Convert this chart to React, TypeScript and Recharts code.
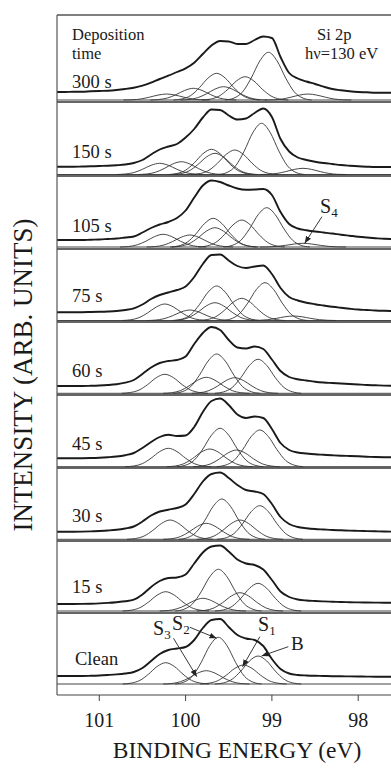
import React from 'react';
import { LineChart, Line, XAxis, YAxis, ReferenceLine } from 'recharts';

// binding energy grid (eV) for the measured spectra
const ENERGY = [
  101.5, 101.4, 101.3, 101.2, 101.1, 101.0, 100.9, 100.8, 100.7, 100.6,
  100.5, 100.4, 100.3, 100.2, 100.1, 100.0, 99.9, 99.8, 99.7, 99.6,
  99.5, 99.4, 99.3, 99.2, 99.1, 99.0, 98.9, 98.8, 98.7, 98.6,
  98.5, 98.4, 98.3, 98.2, 98.1, 98.0, 97.9, 97.8, 97.7, 97.6,
];

const X_TICKS = [101, 100, 99, 98];
const LABELS = ['300 s', '150 s', '105 s', '75 s', '60 s', '45 s', '30 s', '15 s', 'Clean'];

// measured spectra (arb. units, offset per panel)
const TOTAL_300 = [10, 10, 10.3, 10.3, 10.7, 11, 11.3, 12, 13, 14.3, 16.3, 19.3, 23, 26.3, 30, 33.7, 39.3, 48, 56.5, 61, 60.5, 58, 58, 62, 65.5, 64, 45, 29, 23.5, 20.5, 18, 15.3, 13, 11.7, 10.7, 10, 9.7, 9.3, 9.3, 9.3];
const TOTAL_150 = [9.3, 9.3, 9.3, 9.5, 9.7, 10, 10.3, 10.8, 11.5, 13, 16, 21.5, 26.5, 29.5, 32, 38.5, 47, 58.5, 66.5, 66, 60.5, 56.5, 57.5, 63, 67.5, 59, 37, 24.5, 18.5, 16, 14.3, 13, 12, 11, 10.3, 9.7, 9.3, 9, 9, 9];
const TOTAL_105 = [9, 9, 9, 9, 9.3, 9.5, 10, 10.5, 11.5, 12.5, 16.5, 21, 24.5, 27, 31, 38.5, 51.5, 63.5, 68.5, 67, 63.5, 60.5, 59.3, 59.5, 60, 54, 37, 25, 20.5, 18.8, 17.5, 16.5, 15.5, 14.3, 13.3, 12.3, 11.5, 10.8, 10.2, 10];
const TOTAL_75 = [9.7, 9.7, 9.7, 9.8, 10, 10.2, 10.5, 11, 12, 13.7, 17.5, 23, 27, 29.5, 32, 35.5, 45, 58, 67, 67.5, 61.5, 56, 54, 55.5, 56.5, 48, 34, 25, 21.5, 19.3, 17.8, 16.5, 15.2, 14.2, 13.3, 12.5, 12, 11.5, 11.2, 11];
const TOTAL_60 = [9, 9, 9, 9, 9.2, 9.5, 10, 10.8, 12.3, 15, 21, 27.5, 32, 34, 35, 38.5, 51, 62, 68, 65, 55, 47.5, 46.5, 48.5, 46, 35.5, 24, 18, 15.7, 14.5, 13.3, 12.5, 12, 11.5, 11, 10.5, 10, 9.7, 9.4, 9.3];
const TOTAL_45 = [9.7, 9.7, 9.7, 9.8, 10, 10.3, 10.8, 11.5, 12.8, 15, 20, 26, 31, 33.3, 32, 32.5, 41, 56, 67, 69.5, 63, 53.5, 50, 51.5, 50, 39, 25, 18, 15.5, 14.5, 13.7, 13.2, 12.7, 12.3, 12, 11.7, 11.3, 11, 10.8, 10.7];
const TOTAL_30 = [9.3, 9.3, 9.3, 9.4, 9.6, 10, 10.5, 11.2, 12.5, 14.5, 19.5, 25.5, 29.5, 31.3, 33, 36.5, 47, 59.5, 67, 68.5, 63, 56, 51, 49.5, 47, 37, 24, 17, 14, 12.8, 12, 11.5, 11, 10.7, 10.4, 10.1, 9.9, 9.7, 9.5, 9.4];
const TOTAL_15 = [9, 9, 9, 9.1, 9.3, 9.6, 10.1, 10.8, 11.7, 13.3, 18.5, 26, 32, 35, 35.5, 38.5, 49.5, 60.5, 66.5, 67.5, 61.5, 53.5, 49.5, 48, 43.5, 33, 21.5, 16, 13.5, 12.5, 12, 11.6, 11.3, 11, 10.8, 10.6, 10.5, 10.4, 10.3, 10.3];
const TOTAL_CLEAN = [19, 19, 19, 19, 19.2, 19.5, 20, 20.6, 21.5, 23, 27, 34, 41, 45, 46.5, 48, 55, 67, 75, 76, 68, 60, 56.5, 55, 49, 36, 26, 21.5, 20, 19.5, 19.2, 19, 18.8, 18.7, 18.6, 18.5, 18.4, 18.3, 18.3, 18.3];

// fitted components: [peak energy, values from +0.5 eV to -0.5 eV in 0.1 eV steps]
const COMP_300 = [
  [100.22, [2, 2.2, 3, 4.8, 6.9, 8, 6.9, 4.8, 3, 2.2, 2]],
  [99.91, [2, 2.5, 4, 7.4, 11.6, 13.7, 11.6, 7.4, 4, 2.5, 2]],
  [99.64, [2, 3.1, 6.5, 14.3, 23.9, 28.7, 23.9, 14.3, 6.5, 3.1, 2]],
  [99.56, [2, 2.5, 4.3, 8.1, 12.9, 15.3, 12.9, 8.1, 4.3, 2.5, 2]],
  [99.31, [2, 2.9, 6, 12.7, 21.1, 25.3, 21.1, 12.7, 6, 2.9, 2]],
  [99.04, [2, 3.9, 10.1, 23.9, 41.1, 49.7, 41.1, 23.9, 10.1, 3.9, 2]],
  [98.58, [2, 2.2, 3, 4.8, 6.9, 8, 6.9, 4.8, 3, 2.2, 2]],
];
const COMP_150 = [
  [100.3, [1.5, 2, 3.4, 6.7, 10.7, 12.7, 10.7, 6.7, 3.4, 2, 1.5]],
  [100.05, [1.5, 2, 3.7, 7.4, 12, 14.3, 12, 7.4, 3.7, 2, 1.5]],
  [99.7, [1.5, 2.5, 5.8, 13.1, 22.2, 26.7, 22.2, 13.1, 5.8, 2.5, 1.5]],
  [99.66, [1.5, 2.3, 5.1, 11.3, 18.9, 22.7, 18.9, 11.3, 5.1, 2.3, 1.5]],
  [99.43, [1.5, 2.5, 5.7, 12.8, 21.6, 26, 21.6, 12.8, 5.7, 2.5, 1.5]],
  [99.12, [1.5, 3.5, 10.2, 25.1, 43.5, 52.7, 43.5, 25.1, 10.2, 3.5, 1.5]],
  [98.64, [1.5, 1.7, 2.6, 4.4, 6.6, 7.7, 6.6, 4.4, 2.6, 1.7, 1.5]],
];
const COMP_105 = [
  [100.26, [2, 2.5, 4.2, 7.8, 12.4, 14.7, 12.4, 7.8, 4.2, 2.5, 2]],
  [99.95, [2, 2.5, 4, 7.5, 11.8, 14, 11.8, 7.5, 4, 2.5, 2]],
  [99.68, [2, 3.1, 6.9, 15.2, 25.5, 30.7, 25.5, 15.2, 6.9, 3.1, 2]],
  [99.66, [2, 2.8, 5.3, 10.9, 17.8, 21.3, 17.8, 10.9, 5.3, 2.8, 2]],
  [99.35, [2, 3.1, 6.6, 14.4, 24.1, 29, 24.1, 14.4, 6.6, 3.1, 2]],
  [99.06, [2, 3.6, 8.7, 20.1, 34.2, 41.3, 34.2, 20.1, 8.7, 3.6, 2]],
  [98.64, [2, 2.1, 2.6, 3.7, 5, 5.7, 5, 3.7, 2.6, 2.1, 2]],
];
const COMP_75 = [
  [100.24, [1.5, 2.2, 4.3, 9.1, 15, 18, 15, 9.1, 4.3, 2.2, 1.5]],
  [99.95, [1.5, 1.9, 3.3, 6.3, 10.1, 12, 10.1, 6.3, 3.3, 1.9, 1.5]],
  [99.64, [1.5, 2.9, 7.4, 17.4, 29.8, 36, 29.8, 17.4, 7.4, 2.9, 1.5]],
  [99.66, [1.5, 2.2, 4.5, 9.7, 16.1, 19.3, 16.1, 9.7, 4.5, 2.2, 1.5]],
  [99.35, [1.5, 2.4, 5.3, 11.7, 19.7, 23.7, 19.7, 11.7, 5.3, 2.4, 1.5]],
  [99.08, [1.5, 3, 7.9, 18.9, 32.5, 39.3, 32.5, 18.9, 7.9, 3, 1.5]],
  [98.75, [1.5, 1.7, 2.3, 3.6, 5.2, 6, 5.2, 3.6, 2.3, 1.7, 1.5]],
];
const COMP_60 = [
  [100.24, [1.7, 2.5, 4.9, 10.4, 17.3, 20.7, 17.3, 10.4, 4.9, 2.5, 1.7]],
  [99.76, [1.7, 2.3, 4.4, 9.1, 14.8, 17.7, 14.8, 9.1, 4.4, 2.3, 1.7]],
  [99.64, [1.7, 3.3, 8.4, 19.8, 33.9, 41, 33.9, 19.8, 8.4, 3.3, 1.7]],
  [99.43, [1.7, 2.3, 4.4, 8.9, 14.5, 17.3, 14.5, 8.9, 4.4, 2.3, 1.7]],
  [99.16, [1.7, 3.1, 7.5, 17.3, 29.6, 35.7, 29.6, 17.3, 7.5, 3.1, 1.7]],
];
const COMP_45 = [
  [100.2, [1.3, 2, 4.4, 9.8, 16.4, 19.7, 16.4, 9.8, 4.4, 2, 1.3]],
  [99.72, [1.3, 2, 4.3, 9.4, 15.8, 19, 15.8, 9.4, 4.3, 2, 1.3]],
  [99.6, [1.3, 2.8, 7.8, 19, 32.8, 39.7, 32.8, 19, 7.8, 2.8, 1.3]],
  [99.41, [1.3, 2, 4.1, 9, 15, 18, 15, 9, 4.1, 2, 1.3]],
  [99.14, [1.3, 2.8, 7.5, 18.2, 31.4, 38, 31.4, 18.2, 7.5, 2.8, 1.3]],
];
const COMP_30 = [
  [100.18, [1.7, 2.5, 5, 10.6, 17.5, 21, 17.5, 10.6, 5, 2.5, 1.7]],
  [99.76, [1.7, 2.3, 4.4, 9.1, 14.8, 17.7, 14.8, 9.1, 4.4, 2.3, 1.7]],
  [99.58, [1.7, 3.3, 8.6, 20.2, 34.7, 42, 34.7, 20.2, 8.6, 3.3, 1.7]],
  [99.37, [1.7, 2.5, 5, 10.6, 17.5, 21, 17.5, 10.6, 5, 2.5, 1.7]],
  [99.14, [1.7, 3, 7.4, 17.2, 29.3, 35.3, 29.3, 17.2, 7.4, 3, 1.7]],
];
const COMP_15 = [
  [100.23, [2, 2.8, 5.3, 10.9, 17.8, 21.3, 17.8, 10.9, 5.3, 2.8, 2]],
  [99.8, [2, 2.5, 4.2, 7.8, 12.4, 14.7, 12.4, 7.8, 4.2, 2.5, 2]],
  [99.62, [2, 3.7, 9.1, 21.2, 36.2, 43.7, 36.2, 21.2, 9.1, 3.7, 2]],
  [99.37, [2, 2.7, 5.1, 10.4, 17, 20.3, 17, 10.4, 5.1, 2.7, 2]],
  [99.16, [2, 3.1, 6.7, 14.7, 24.7, 29.7, 24.7, 14.7, 6.7, 3.1, 2]],
];
const COMP_CLEAN = [
  [100.23, [11, 11.9, 14.6, 20.8, 28.5, 32.3, 28.5, 20.8, 14.6, 11.9, 11]],
  [99.76, [11, 11.5, 13.3, 17.1, 21.9, 24.3, 21.9, 17.1, 13.3, 11.5, 11]],
  [99.62, [11, 12.9, 18.9, 32.5, 49.3, 57.7, 49.3, 32.5, 18.9, 12.9, 11]],
  [99.33, [11, 11.8, 14.2, 19.7, 26.6, 30, 26.6, 19.7, 14.2, 11.8, 11]],
  [99.16, [11, 12.1, 15.8, 23.9, 34, 39, 34, 23.9, 15.8, 12.1, 11]],
];

// background level under the components of each panel
const BACKGROUND = [2, 1.5, 2, 1.5, 1.7, 1.3, 1.7, 2, 11];

// arrows from component labels: [from (eV, value), to (eV, value)]
const ARROWS_105 = [[[98.42, 32.3], [98.62, 5.7]]];
const ARROWS_CLEAN = [
  [[100.14, 56.7], [99.87, 18.3]],
  [[99.95, 67.7], [99.64, 56.7]],
  [[99.14, 58.3], [99.34, 28.3]],
  [[98.81, 48.3], [99.12, 39]],
];

const TOTALS = [TOTAL_300, TOTAL_150, TOTAL_105, TOTAL_75, TOTAL_60, TOTAL_45, TOTAL_30, TOTAL_15, TOTAL_CLEAN];
const COMPS = [COMP_300, COMP_150, COMP_105, COMP_75, COMP_60, COMP_45, COMP_30, COMP_15, COMP_CLEAN];
const ARROWS = [[], [], ARROWS_105, [], [], [], [], [], ARROWS_CLEAN];

// layout
const PANEL_TOP = [15, 102, 176, 249, 322, 395, 468, 541, 613];
const PANEL_H = [87, 74, 73, 73, 73, 73, 73, 72, 82];
const LABEL_Y = [88, 158, 231.5, 301.5, 376.5, 450, 521.5, 593, 665];
const PLOT_LEFT = 57;
const PLOT_W = 334;
const E_DOMAIN = [97.62, 101.49];
const FONT = 'Liberation Serif, Times New Roman, DejaVu Serif, serif';
const INK = '#1a1a1a';
const serif = { fontFamily: FONT };

function Panel({ idx }: { idx: number }) {
  const last = idx === TOTALS.length - 1;
  const h = PANEL_H[idx];
  const rows = ENERGY.map((e, i) => ({ e, t: TOTALS[idx][i] }));
  const top = last ? PANEL_TOP[idx] : PANEL_TOP[idx] - 1;
  const yDomain = last ? [0, h] : [-1, h + 1];
  const height = last ? h + 45 : h + 2;

  return (
    <div style={{ position: 'absolute', left: PLOT_LEFT, top }}>
      <LineChart width={PLOT_W} height={height} data={rows} margin={{ top: 0, right: 0, bottom: 0, left: 0 }}>
        <XAxis
          type="number"
          dataKey="e"
          domain={E_DOMAIN}
          reversed
          allowDataOverflow
          hide={!last}
          ticks={X_TICKS}
          height={45}
          tickSize={6}
          tickMargin={12}
          stroke="#444"
          tick={{ fontSize: 20, fill: INK, style: serif }}
        />
        <YAxis type="number" domain={yDomain} hide allowDataOverflow />
        {!last && <ReferenceLine y={0} stroke="#333" strokeWidth={1.6} />}
        {idx === 0 && <ReferenceLine y={h} stroke="#555" strokeWidth={1.4} />}
        <ReferenceLine y={BACKGROUND[idx]} stroke="#444" strokeWidth={1} />
        {COMPS[idx].map(([c, v]: any, k: number) => (
          <Line
            key={k}
            data={v.map((y: number, i: number) => ({ e: c + 0.5 - 0.1 * i, v: y }))}
            dataKey="v"
            type="monotone"
            dot={false}
            stroke="#333"
            strokeWidth={0.9}
            isAnimationActive={false}
          />
        ))}
        <Line dataKey="t" type="monotone" dot={false} stroke={INK} strokeWidth={1.9} isAnimationActive={false} />
        {ARROWS[idx].map((a: any, k: number) => (
          <ReferenceLine
            key={'a' + k}
            segment={[{ x: a[0][0], y: a[0][1] }, { x: a[1][0], y: a[1][1] }]}
            stroke="#222"
            strokeWidth={0.9}
            markerEnd="url(#arrowHead)"
          />
        ))}
      </LineChart>
    </div>
  );
}

const Sub = ({ x, y, main, sub }: { x: number; y: number; main: string; sub: string }) => (
  <text x={x} y={y} fontSize={20} fill={INK} style={serif}>
    {main}
    <tspan fontSize={13} dy={4}>{sub}</tspan>
  </text>
);

export default function App() {
  return (
    <div
      style={{
        position: 'absolute',
        left: 0,
        top: 0,
        width: 391,
        height: 768,
        overflow: 'hidden',
        background: '#fff',
        fontFamily: FONT,
      }}
    >
      <svg width={0} height={0} style={{ position: 'absolute' }}>
        <defs>
          <marker id="arrowHead" viewBox="0 0 10 10" refX="10" refY="5" markerWidth="8" markerHeight="8" orient="auto">
            <path d="M0,1 L10,5 L0,9 z" fill="#222" />
          </marker>
        </defs>
      </svg>

      {TOTALS.map((_, i) => (
        <Panel key={i} idx={i} />
      ))}

      <svg width={391} height={768} style={{ position: 'absolute', left: 0, top: 0, pointerEvents: 'none' }}>
        <line x1={PLOT_LEFT} y1={15} x2={PLOT_LEFT} y2={695} stroke="#555" strokeWidth={1.2} />
        <g fill={INK} fontSize={16.5} style={serif}>
          <text x={72} y={39.5}>Deposition</text>
          <text x={72} y={58.5}>time</text>
          <text x={317} y={39.5}>Si 2p</text>
          <text x={305} y={58.5}>hν=130 eV</text>
        </g>
        <g fill={INK} fontSize={18.5} style={serif}>
          {LABELS.map((l, i) => (
            <text key={l} x={l === 'Clean' ? 75 : 72} y={LABEL_Y[i]}>
              {l}
            </text>
          ))}
        </g>
        <Sub x={320} y={213} main="S" sub="4" />
        <Sub x={153} y={635} main="S" sub="3" />
        <Sub x={172} y={630} main="S" sub="2" />
        <Sub x={258} y={631} main="S" sub="1" />
        <text x={291} y={650} fontSize={19} fill={INK} style={serif}>B</text>
        <text x={237} y={758} textAnchor="middle" fontSize={23.5} fill={INK} style={serif}>
          BINDING ENERGY (eV)
        </text>
        <text
          x={32}
          y={375}
          textAnchor="middle"
          fontSize={27}
          fill={INK}
          style={serif}
          transform="rotate(-90 32 375)"
        >
          INTENSITY (ARB. UNITS)
        </text>
      </svg>
    </div>
  );
}
